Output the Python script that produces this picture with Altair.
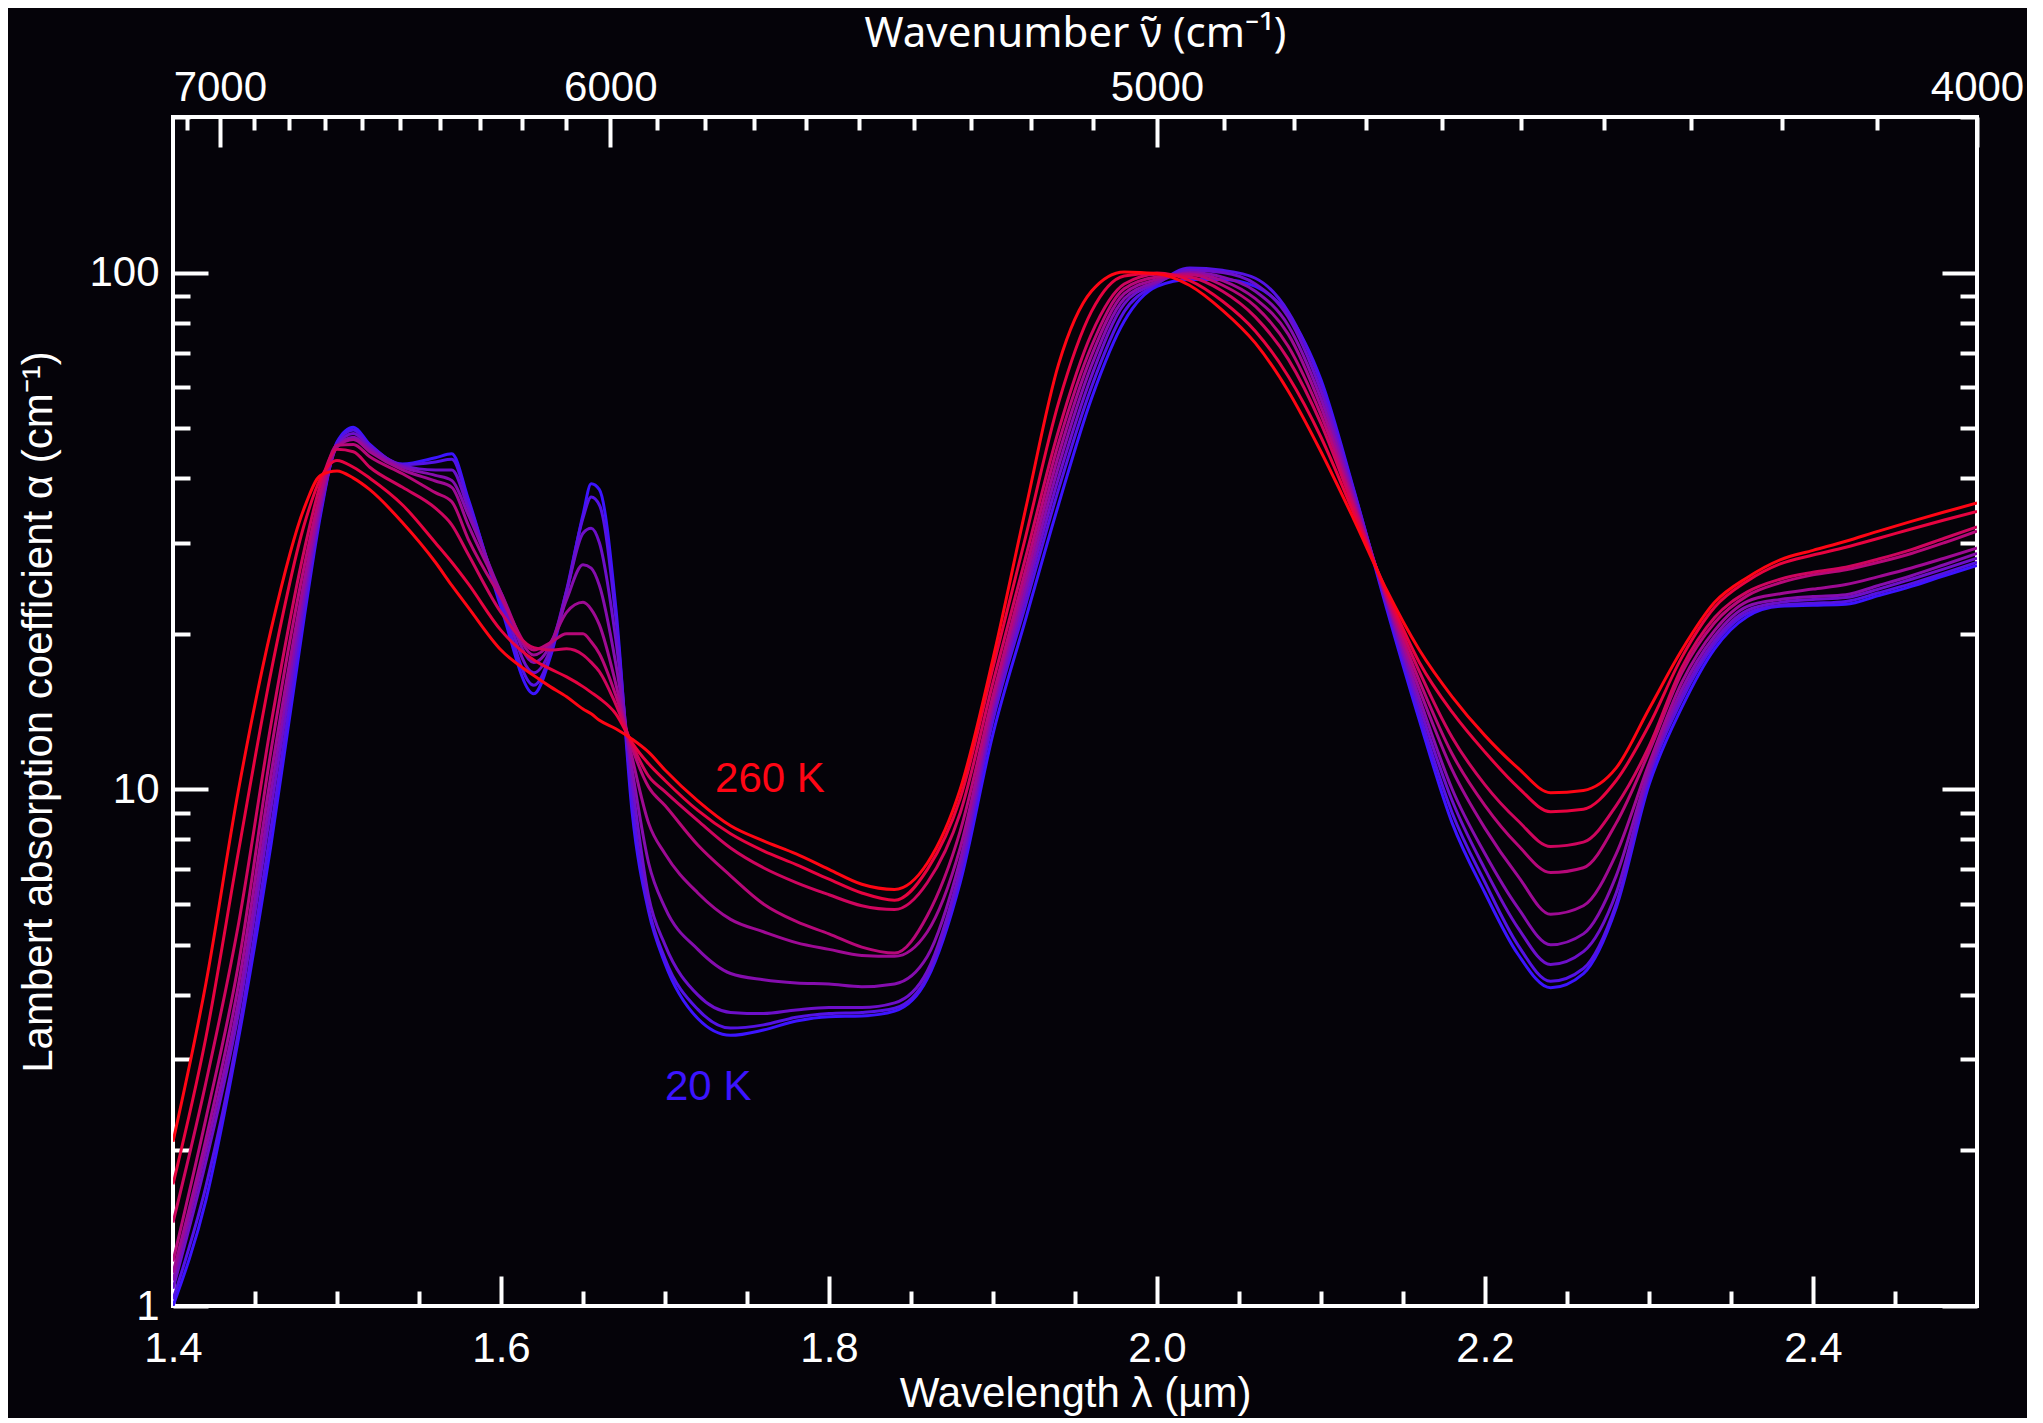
import altair as alt
import pandas as pd

FONT = "Liberation Sans"

# ---------------- data ----------------
wavelength = [1.40, 1.42, 1.44, 1.46, 1.48, 1.49, 1.50, 1.51,
              1.52, 1.54, 1.56, 1.57, 1.58, 1.60, 1.62, 1.63,
              1.64, 1.65, 1.655, 1.66, 1.67, 1.68, 1.69, 1.70,
              1.72, 1.74, 1.76, 1.78, 1.80, 1.82, 1.84, 1.86,
              1.88, 1.90, 1.92, 1.94, 1.96, 1.98, 2.00, 2.02,
              2.04, 2.06, 2.08, 2.10, 2.12, 2.14, 2.16, 2.18,
              2.20, 2.22, 2.24, 2.26, 2.28, 2.30, 2.32, 2.34,
              2.36, 2.38, 2.40, 2.42, 2.44, 2.46, 2.48, 2.50]

temperatures = [20, 50, 80, 110, 140, 170, 200, 230, 260]

alpha_20K = [1.0, 1.6, 3.3, 7.9, 21.5, 34, 47, 50.2,
             46.5, 42.6, 43.8, 44.6, 36.5, 22.5, 15.3, 18,
             24, 34, 39, 38, 22.5, 9.0, 5.8, 4.6,
             3.6, 3.34, 3.42, 3.56, 3.63, 3.64, 3.72, 4.3,
             6.6, 12.8, 21.4, 35.6, 57, 80.5, 94, 97,
             97, 94, 83, 62, 38, 22.4, 13.6, 8.6,
             6.3, 4.8, 4.13, 4.4, 5.9, 10.2, 14.4, 18.7,
             21.6, 22.6, 22.7, 22.8, 23.7, 24.7, 25.9, 27.1]
alpha_50K = [1.03, 1.7, 3.4, 8.5, 22.3, 34.5, 46.8, 49.6,
             46.3, 42.5, 43.0, 43.5, 36, 23, 15.9, 18.2,
             24.3, 33.5, 36.8, 35.5, 21.5, 9.5, 5.9, 4.7,
             3.75, 3.45, 3.5, 3.62, 3.68, 3.7, 3.77, 4.35,
             6.8, 13.6, 22.8, 38.1, 60, 84, 95, 102,
             101, 97.5, 84, 61, 37.8, 22.7, 14.0, 9.0,
             6.6, 5.0, 4.25, 4.5, 6.0, 10.5, 14.9, 19.1,
             21.9, 22.7, 22.9, 23.1, 24.0, 25.0, 26.2, 27.5]
alpha_80K = [1.08, 1.9, 3.7, 9.3, 23.3, 35, 46.3, 48.8,
             46, 42.3, 41.5, 41.5, 35, 23.5, 16.8, 18.6,
             24.2, 31.3, 32.0, 30.0, 19.5, 10.3, 6.2, 5.0,
             4.0, 3.7, 3.68, 3.74, 3.78, 3.78, 3.86, 4.45,
             7.0, 14.0, 23.7, 40.1, 63, 87, 95.5, 101,
             100, 95, 82, 59, 37.2, 23.0, 14.5, 9.5,
             7.0, 5.4, 4.58, 4.85, 6.3, 10.7, 15.2, 19.4,
             22.2, 23.0, 23.3, 23.5, 24.4, 25.5, 26.7, 28.0]
alpha_110K = [1.12, 2.0, 3.9, 10.0, 24.3, 35.5, 46, 48,
              45.5, 42, 40.5, 39.6, 34, 24, 17.6, 19.0,
              23.3, 27.2, 26.8, 24.8, 17.5, 10.9, 7.2, 5.9,
              4.9, 4.4, 4.28, 4.22, 4.2, 4.15, 4.2, 4.75,
              7.3, 14.4, 24.6, 42.2, 66, 89, 96, 100,
              98, 92, 79, 57, 36.6, 23.2, 15.0, 10.0,
              7.5, 5.9, 5.0, 5.25, 6.8, 10.9, 15.6, 19.8,
              22.6, 23.3, 23.6, 23.8, 24.8, 25.9, 27.2, 28.6]
alpha_140K = [1.16, 2.1, 4.2, 10.8, 25.3, 36.5, 46, 47.5,
              45, 41.5, 39.5, 38.4, 32.5, 24, 18.2, 19.2,
              22, 23.0, 22.3, 20.8, 16.0, 11.5, 8.6, 7.5,
              6.3, 5.6, 5.3, 5.05, 4.9, 4.77, 4.75, 5.3,
              7.7, 14.8, 25.6, 44.4, 69, 91, 97, 99.5,
              96.5, 89, 76, 55, 36, 23.4, 15.6, 10.9,
              8.4, 6.8, 5.73, 5.95, 7.5, 11.2, 16.1, 20.3,
              23.1, 23.9, 24.4, 24.9, 25.8, 26.8, 28.0, 29.3]
alpha_170K = [1.22, 2.3, 4.6, 12, 27, 37.5, 46.3, 46.5,
              44, 40.8, 37.5, 36, 30.5, 23.5, 18.6, 19.2,
              20.0, 20.0, 19.3, 18.3, 15.2, 12.0, 10.1, 9.3,
              7.8, 6.8, 6.0, 5.55, 5.25, 4.95, 4.82, 5.7,
              8.3, 15.2, 26.7, 46.8, 72, 93, 98, 99,
              94.5, 86, 72, 53, 35.5, 23.6, 16.2, 11.7,
              9.3, 7.8, 6.9, 7.05, 8.6, 11.8, 16.8, 21.0,
              23.7, 25.1, 26.0, 26.6, 27.5, 28.6, 30.0, 31.6]
alpha_200K = [1.45, 2.7, 5.5, 13.5, 29, 39, 45.5, 45,
              42, 38.4, 35, 32.5, 28.5, 22, 18.8, 18.6,
              18.7, 18.2, 17.6, 16.9, 14.6, 12.2, 10.6, 9.9,
              8.7, 7.7, 7.05, 6.6, 6.25, 5.95, 5.85, 6.6,
              9.0, 16.1, 28.2, 49.5, 76, 95, 99.3, 98,
              92, 82, 68, 51, 35, 23.8, 16.9, 12.6,
              10.2, 8.7, 7.75, 7.9, 9.3, 12.1, 17.2, 21.5,
              24.1, 25.5, 26.3, 26.9, 27.9, 29.1, 30.6, 32.2]
alpha_230K = [1.72, 3.3, 7.6, 17, 32.5, 40, 43.3, 42,
              40, 35.5, 30, 27.5, 25, 20.3, 17.8, 17.1,
              16.5, 15.8, 15.4, 15.0, 14.0, 12.3, 11.2, 10.4,
              9.1, 8.2, 7.6, 7.15, 6.7, 6.3, 6.1, 7.0,
              9.6, 17.2, 30.9, 56, 84, 98.5, 99.8, 96.5,
              88, 77, 63, 48, 34.2, 24.1, 17.6, 14.1,
              11.8, 10.1, 9.05, 9.15, 10.4, 13.3, 18.0, 22.5,
              25.3, 27.3, 28.4, 29.4, 30.6, 31.9, 33.2, 34.5]
alpha_260K = [2.08, 4.2, 10.0, 20.5, 35, 40.5, 41.3, 40,
              38, 32.8, 27.5, 24.8, 22.5, 18.6, 16.6, 15.8,
              15.1, 14.3, 14.0, 13.6, 13.1, 12.5, 11.8, 10.9,
              9.5, 8.5, 7.95, 7.5, 7.0, 6.55, 6.4, 7.2,
              10.0, 17.9, 35, 66.5, 92, 100.3, 99.5, 94.4,
              84.5, 73, 59, 45, 33.3, 24.3, 18.6, 15.1,
              12.7, 11.0, 9.85, 9.95, 11.0, 14.3, 18.6, 23.0,
              25.7, 27.8, 29.0, 30.2, 31.6, 33.0, 34.4, 35.8]

curves = [alpha_20K, alpha_50K, alpha_80K, alpha_110K, alpha_140K,
          alpha_170K, alpha_200K, alpha_230K, alpha_260K]

curve_colors = ["#3c14ff", "#5412e4", "#6d0fc9", "#850dae", "#9e0a94",
                "#b60879", "#ce055e", "#e70340", "#ff0514"]

label_text = ["260 K", "20 K"]
label_lambda = [1.7305, 1.700]
label_alpha = [9.9, 2.5]
label_color = ["#ff0514", "#3c14ff"]

x_major = [1.4, 1.6, 1.8, 2.0, 2.2, 2.4]
x_minor = [1.45, 1.5, 1.55, 1.65, 1.7, 1.75, 1.85, 1.9, 1.95,
           2.05, 2.1, 2.15, 2.25, 2.3, 2.35, 2.45]
y_major = [1, 10, 100]
y_minor = [2, 3, 4, 5, 6, 7, 8, 9, 20, 30, 40, 50, 60, 70, 80, 90, 200]
wn_major = [7000, 6000, 5000, 4000]
wn_minor = [w for w in range(4100, 7200, 100) if w % 1000 != 0]

BG = "#050309"

# ---------------- tables ----------------
rows = []
for t, vals in zip(temperatures, curves):
    for lam, a in zip(wavelength, vals):
        rows.append({"lam": lam, "alpha": a, "T": t})
df = pd.DataFrame(rows)

labels_df = pd.DataFrame({"lam": label_lambda, "alpha": label_alpha,
                          "text": label_text, "color": label_color})
corner_df = pd.DataFrame({"lam": [1.4, 2.5], "alpha": [1, 200]})

# ---------------- scales / axes ----------------
x_scale = alt.Scale(domain=[1.4, 2.5], nice=False, zero=False)
y_scale = alt.Scale(type="log", domain=[1, 200], nice=False)

common = dict(domain=False, grid=False, tickColor="white", tickWidth=4,
              labelColor="white", titleColor="white", labelFont=FONT,
              labelFontSize=42, titleFontSize=42,
              titleFontWeight="normal", labelFlush=False)

x_bottom_major = alt.Axis(orient="bottom", values=x_major, format=".1f",
                          tickSize=30, offset=-30, labelPadding=22,
                          title="Wavelength λ (µm)", titlePadding=4,
                          titleFont=FONT, **common)
y_left_major = alt.Axis(orient="left", values=y_major, format="d",
                        tickSize=35, offset=-35, labelPadding=14,
                        title="Lambert absorption coefficient α (cm⁻¹)",
                        titlePadding=28, titleFont=FONT, **common)

X1 = alt.X("lam:Q", scale=x_scale, axis=x_bottom_major)
Y1 = alt.Y("alpha:Q", scale=y_scale, axis=y_left_major)

lines = alt.Chart(df).mark_line(strokeWidth=3, interpolate="monotone", clip=True).encode(
    x=X1, y=Y1,
    color=alt.Color("T:N", scale=alt.Scale(domain=temperatures, range=curve_colors),
                    legend=None),
)

texts = alt.Chart(labels_df).mark_text(align="left", baseline="alphabetic",
                                       fontSize=42, font=FONT).encode(
    x=X1, y=Y1, text="text:N", color=alt.Color("color:N", scale=None),
)

main = alt.layer(lines, texts)

minor_bl = alt.Chart(corner_df).mark_point(opacity=0).encode(
    x=alt.X("lam:Q", scale=x_scale, title=None,
            axis=alt.Axis(orient="bottom", values=x_minor, tickSize=15, offset=-15,
                          labels=False, **common)),
    y=alt.Y("alpha:Q", scale=y_scale, title=None,
            axis=alt.Axis(orient="left", values=y_minor, tickSize=17, offset=-17,
                          labels=False, **common)),
)

top_major = alt.Chart(corner_df).mark_point(opacity=0).encode(
    x=alt.X("lam:Q", scale=x_scale,
            axis=alt.Axis(orient="top", values=[10000 / w for w in wn_major],
                          labelExpr="format(round(10000 / datum.value), 'd')",
                          tickSize=30, offset=-30, labelPadding=8,
                          title="Wavenumber ν̃ (cm⁻¹)", titlePadding=11,
                          titleFont="Noto Sans", **common)),
    y=alt.Y("alpha:Q", scale=y_scale, title=None,
            axis=alt.Axis(orient="right", values=y_major, tickSize=35, offset=-35,
                          labels=False, **common)),
)

top_minor = alt.Chart(corner_df).mark_point(opacity=0).encode(
    x=alt.X("lam:Q", scale=x_scale, title=None,
            axis=alt.Axis(orient="top", values=[10000 / w for w in wn_minor],
                          tickSize=13, offset=-13, labels=False, **common)),
    y=alt.Y("alpha:Q", scale=y_scale, title=None,
            axis=alt.Axis(orient="right", values=y_minor, tickSize=17, offset=-17,
                          labels=False, **common)),
)

chart = alt.layer(main, minor_bl, top_major, top_minor).resolve_scale(
    x="independent", y="independent"
).properties(
    width=1804, height=1189,
    autosize=alt.AutoSizeParams(type="none"),
    padding={"left": 165, "top": 109, "right": 50, "bottom": 112},
    background=BG,
).configure_view(stroke="white", strokeWidth=4)

chart.save("out.html", embed_options={"renderer": "svg", "actions": False})
